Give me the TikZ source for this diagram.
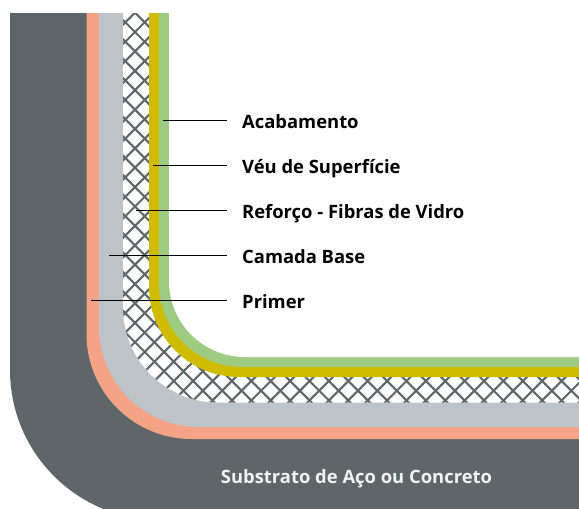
\documentclass[tikz,border=0pt]{standalone}
\usepackage{fontspec}
\setmainfont{Open Sans}
\definecolor{cdark}{HTML}{5F6669}
\definecolor{csalmon}{HTML}{F4A387}
\definecolor{cgray}{HTML}{BCC3C9}
\definecolor{cyellow}{HTML}{CFBB00}
\definecolor{cgreen}{HTML}{9DCB82}
\newcommand{\layerpath}[3]{(#1,13) [rounded corners=#3pt] -- (#1,#2) [sharp corners] -- (579,#2) -- (579,13) -- cycle}
\tikzset{
  lab/.style={anchor=west,inner xsep=0pt,inner ysep=0pt,text height=16pt,text depth=0pt,font=\bfseries\fontsize{18.4}{20}\selectfont,text=black,xshift=15pt},
  leader/.style={draw=black,line width=0.9pt},
  hatchline/.style={draw=cdark,line width=2.1pt},
}
\begin{document}
\begin{tikzpicture}[x=1pt,y=-1pt]
\useasboundingbox (0,0) rectangle (579,509);
\clip (0,0) rectangle (579,509);
\fill[cdark] \layerpath{10}{520}{150};
\fill[csalmon] \layerpath{86.5}{439}{105};
\fill[cgray] \layerpath{99}{427}{100};
\fill[white] \layerpath{123}{402.5}{95};
\begin{scope}
\clip \layerpath{123}{402.5}{95};
\foreach \k in {0,...,60}{
  \pgfmathsetmacro{\ca}{167+19.39*(\k-5)}
  \pgfmathsetmacro{\cb}{103+19.39*(\k-25)}
  \draw[hatchline] (\ca,0) -- ({\ca-600},600);
  \draw[hatchline] (\cb,0) -- ({\cb+600},600);
}
\end{scope}
\fill[cyellow] \layerpath{149}{377}{90};
\fill[cgreen] \layerpath{159}{367}{83};
\fill[white] \layerpath{169}{357}{76};
\node[lab] (acab) at (227,120) {Acabamento};
\node[lab] (veu) at (227,165) {Véu de Superfície};
\node[lab] (ref) at (227,210) {Reforço - Fibras de Vidro};
\node[lab] (cam) at (227,255) {Camada Base};
\node[lab] (pri) at (227,300) {Primer};
\coordinate (e1) at (163,120);
\coordinate (e2) at (153,165);
\coordinate (e3) at (136,210);
\coordinate (e4) at (109,255);
\coordinate (e5) at (91,300);
\draw[leader] (e1) -- ([xshift=-15pt]acab.west);
\draw[leader] (e2) -- ([xshift=-15pt]veu.west);
\draw[leader] (e3) -- ([xshift=-15pt]ref.west);
\draw[leader] (e4) -- ([xshift=-15pt]cam.west);
\draw[leader] (e5) -- ([xshift=-15pt]pri.west);
\node[lab,anchor=center,text=white!95!black] (sub) at (341.5,475) {Substrato de Aço ou Concreto};
\end{tikzpicture}
\end{document}
